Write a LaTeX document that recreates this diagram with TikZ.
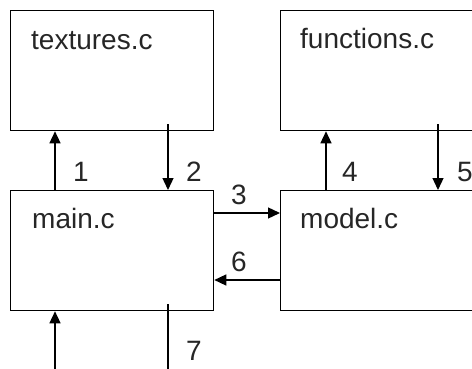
\documentclass[tikz,border=0pt]{standalone}
\usepackage{fontspec}
\setmainfont{Liberation Sans}
\usetikzlibrary{arrows.meta}
\begin{document}
\begin{tikzpicture}[x=1pt,y=-1pt,
  every node/.style={font=\fontsize{28}{34}\selectfont, text=black!85},
  module/.style={draw, line width=1.3pt, minimum width=203pt, minimum height=120pt,
    inner sep=0pt, anchor=north west},
  caption/.style={anchor=base west, inner sep=0pt},
  num/.style={inner sep=0pt, anchor=center},
  link/.style={line width=1.3pt, -{Triangle[length=12pt,width=11pt]}},
  plain/.style={line width=1.3pt}]
\useasboundingbox (0,0) rectangle (472,369);
\clip (0,0) rectangle (472,369);

% source files
\node[module] (textures)  at (10,10)  {};
\node[module] (functions) at (280,10) {};
\node[module] (main)      at (10,190) {};
\node[module] (model)     at (280,190) {};

\node[caption] (ttex) at (31,50)   {textures.c};
\node[caption] (tfun) at (300,49)  {functions.c};
\node[caption] (tmai) at (32,228)  {main.c};
\node[caption] (tmod) at (300,228) {model.c};

% free ends below main.c
\coordinate (inbot)  at (55,380);
\coordinate (outbot) at (168,380);

% calls between the files
\draw[link] ([xshift=45pt]main.north west) -- ([xshift=45pt]textures.south west);
\draw[link] ([xshift=158pt,yshift=7pt]textures.south west) -- ([xshift=158pt]main.north west);
\draw[link] ([yshift=-23pt]main.north east) -- ([yshift=-23pt]model.north west);
\draw[link] ([xshift=46pt]model.north west) -- ([xshift=46pt]functions.south west);
\draw[link] ([xshift=158pt,yshift=7pt]functions.south west) -- ([xshift=158pt]model.north west);
\draw[link] ([yshift=-90pt]model.north west) -- ([yshift=-90pt]main.north east);
\draw[link] (inbot) -- ([xshift=45pt]main.south west);
\draw[plain] ([xshift=158pt,yshift=7pt]main.south west) -- (outbot);

% step numbers
\node[num] (n1) at (81,172)  {1};
\node[num] (n2) at (194,172) {2};
\node[num] (n3) at (239,195) {3};
\node[num] (n4) at (350,172) {4};
\node[num] (n5) at (465,172) {5};
\node[num] (n6) at (239,262) {6};
\node[num] (n7) at (194,351) {7};
\end{tikzpicture}
\end{document}
